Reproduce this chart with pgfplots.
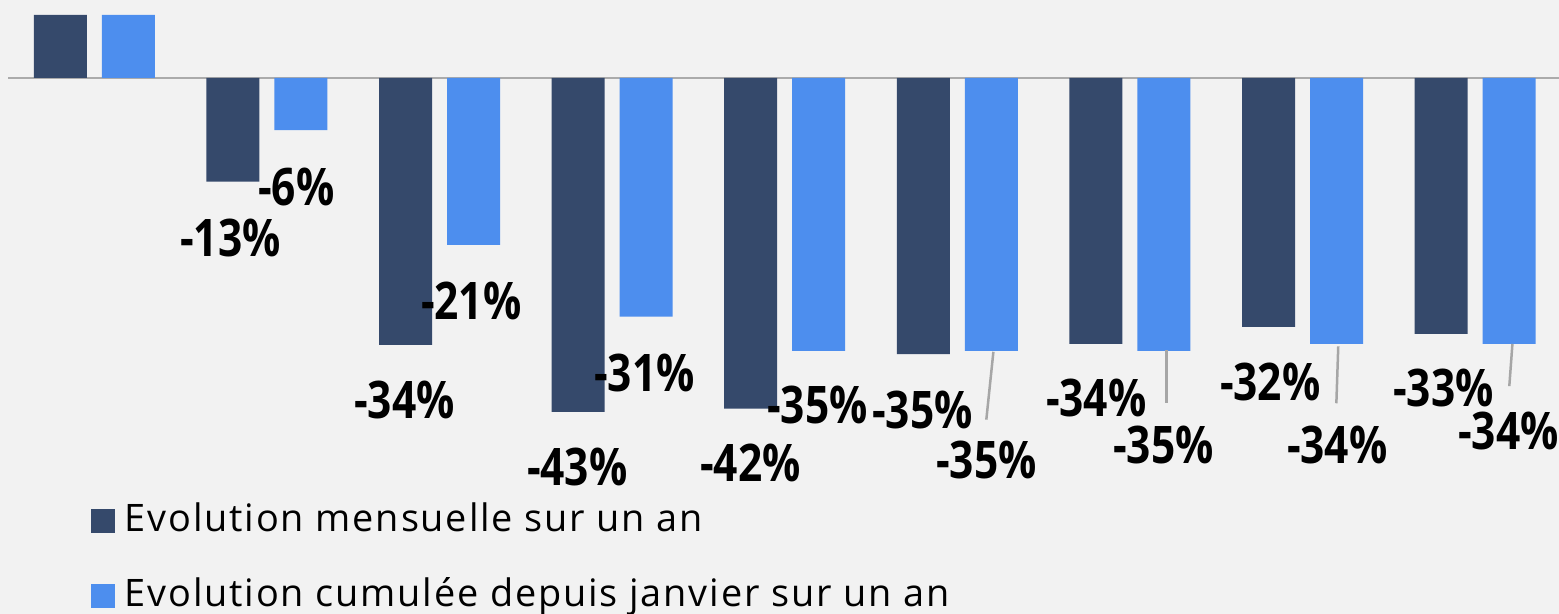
\documentclass[border=0pt]{standalone}
\usepackage{pgfplots}
\pgfplotsset{compat=1.18}
\usepackage{fontspec}
\setmainfont{Open Sans}
\newfontfamily\labfont{Open Sans}[FakeStretch=0.82]
\newfontfamily\legfont{Open Sans}[LetterSpace=4.8]
\definecolor{darkbar}{HTML}{35496B}
\definecolor{lightbar}{HTML}{4D8EEE}
\definecolor{bgcol}{HTML}{F2F2F2}
\definecolor{basegray}{HTML}{ABABAB}
\definecolor{leadgray}{HTML}{A6A6A6}
\begin{document}
\begin{tikzpicture}[x=1bp,y=1bp]
\useasboundingbox (0,0) rectangle (1559,614);
\fill[bgcol] (0,0) rectangle (1559,614);
\begin{axis}[
  at={(8bp,124bp)}, anchor=south west,
  scale only axis, width=1551bp, height=490bp,
  xmin=-0.5, xmax=8.486, ymin=-52.82, ymax=10,
  axis lines=none, clip=false,
  legend style={at={(0.0535,-0.0265)}, anchor=north west, draw=none, fill=none,
    inner sep=0pt, outer sep=0pt,
    font=\legfont\fontsize{38}{38}\selectfont, row sep=37bp,
    nodes={inner sep=0pt, text height=29bp, text depth=9bp},
    /tikz/every odd column/.append style={column sep=10bp}},
  legend cell align=left,
  legend image code/.code={\draw[#1,draw=none] (0bp,-11bp) rectangle (24bp,13bp);},
]
\addplot[basegray, line width=1.5bp, forget plot] coordinates {(-0.5,0) (8.486,0)};
\addplot[ybar, bar width=0.307, fill=darkbar, draw=none] coordinates {
 (-0.197,8.1) (0.803,-13.3) (1.803,-34.2) (2.803,-42.8) (3.803,-42.4)
 (4.803,-35.4) (5.803,-34.1) (6.803,-31.9) (7.803,-32.8)};
\addlegendentry{Evolution mensuelle sur un an}
\addplot[ybar, bar width=0.307, fill=lightbar, draw=none] coordinates {
 (0.197,8.1) (1.197,-6.7) (2.197,-21.4) (3.197,-30.6) (4.197,-35.0)
 (5.197,-35.0) (6.197,-35.0) (7.197,-34.1) (8.197,-34.1)};
\addlegendentry{Evolution cumulée depuis janvier sur un an}
% leader lines
\addplot[leadgray, line width=2.5bp, forget plot] coordinates {(5.209,-35.1) (5.168,-43.8)};
\addplot[leadgray, line width=2.5bp, forget plot] coordinates {(6.211,-34.9) (6.211,-41.7)};
\addplot[leadgray, line width=2.5bp, forget plot] coordinates {(7.207,-34.4) (7.196,-41.7)};
\addplot[leadgray, line width=2.5bp, forget plot] coordinates {(8.216,-34.1) (8.198,-39.5)};
% data labels
\addplot[draw=none, forget plot, nodes near coords, point meta=explicit symbolic,
  nodes near coords style={anchor=center, inner sep=0pt, font=\labfont\bfseries\fontsize{52}{52}\selectfont}]
 coordinates {
 (0.788,-20.5)[-13\%] (1.796,-41.3)[-34\%] (2.798,-49.9)[-43\%] (3.801,-49.4)[-42\%]
 (4.797,-42.6)[-35\%] (5.805,-41.0)[-34\%] (6.813,-39.0)[-32\%] (7.816,-39.7)[-33\%]};
\addplot[draw=none, forget plot, nodes near coords, point meta=explicit symbolic,
  nodes near coords style={anchor=center, inner sep=0pt, font=\labfont\bfseries\fontsize{52}{52}\selectfont}]
 coordinates {
 (1.170,-14.0)[-6\%] (2.184,-28.6)[-21\%] (3.187,-37.8)[-31\%] (4.189,-41.9)[-35\%]
 (5.168,-49.0)[-35\%] (6.194,-47.1)[-35\%] (7.201,-47.1)[-34\%] (8.193,-45.3)[-34\%]};
\end{axis}
\end{tikzpicture}
\end{document}
